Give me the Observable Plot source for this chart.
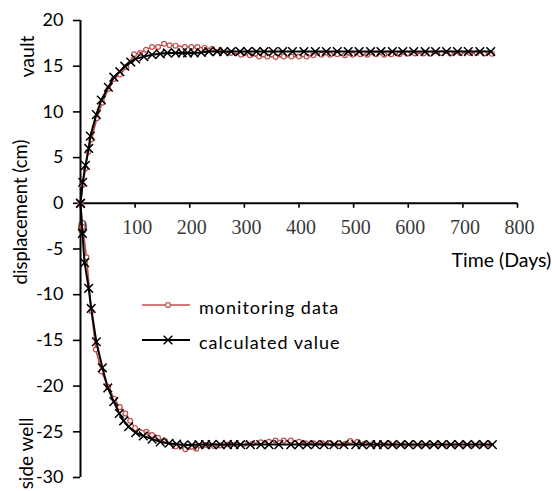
<!DOCTYPE html>
<html><head><meta charset="utf-8">
<script src="https://cdn.jsdelivr.net/npm/d3@7"></script>
<script src="https://cdn.jsdelivr.net/npm/@observablehq/plot@0.6"></script>
<style>
body{margin:0;background:#fff;}
#wrap{position:relative;width:552px;height:491px;overflow:hidden;background:#fff}
#legend{position:absolute;left:0;top:0;pointer-events:none}
</style></head><body><div id="wrap"></div>
<script>
// ---- data ----
const xTicks = [0,100,200,300,400,500,600,700,800];
const yTicks = [-30,-25,-20,-15,-10,-5,0,5,10,15,20];
const seriesNames = ["monitoring data","calculated value"];

// vault (upper) – monitoring data
const monUpDays = [0,4,9,14,20,30,40,51,61,72,84,98,109,120,131,142,153,163,174,191,203,214,227,241,256,275,294,310,327,342,357,372,386,400,414,426,441,457,470,484,498,512,525,541,556,569,584,598,612,628,640,661,677,695,713,725,739,753];
const monUpVals = [0,2.0,3.8,5.6,7.0,9.3,11.0,12.5,13.6,14.1,14.9,16.3,16.45,16.8,17.1,17.1,17.45,17.3,17.25,17.1,17.1,17.1,17.0,16.9,16.7,16.45,16.25,16.2,16.05,16.05,16.0,16.05,16.05,16.05,16.05,16.2,16.25,16.25,16.3,16.2,16.25,16.3,16.25,16.3,16.25,16.3,16.3,16.35,16.4,16.4,16.35,16.45,16.4,16.45,16.45,16.45,16.4,16.35];
// vault (upper) – calculated value
const calUpDays = [0,4,9,15,18,29,38,51,61,72,81,92,101,116,131,146,159,174,186,196,208,221,235,250,262,276,292,306,322,336,353,370,388,409,430,450,470,490,510,531,550,571,590,610,631,650,670,690,710,731,751];
const calUpVals = [0,2.3,4.15,6.0,7.35,9.7,11.3,12.7,13.8,14.4,15.0,15.45,15.8,16.05,16.25,16.35,16.45,16.45,16.45,16.45,16.45,16.5,16.6,16.6,16.6,16.6,16.6,16.6,16.6,16.6,16.6,16.6,16.6,16.6,16.6,16.6,16.6,16.6,16.6,16.6,16.6,16.6,16.6,16.6,16.6,16.6,16.6,16.6,16.6,16.6,16.6];
// side well (lower) – monitoring data
const monDnDays = [0,4,11,20,28,38.5,50.7,62,72,82,91,100,121,131,142,155,174,192,212,230,244,256,270,285,300,315,330,345,357,372,385,400,412,427,443,458,473,485,494,507,520,535,550,565,580,595,610,625,640,655,670,685,700,715,730,745];
const monDnVals = [0,-2.6,-5.9,-11.8,-16.0,-18.4,-20.1,-21.4,-22.3,-23.0,-23.8,-24.6,-25.0,-25.35,-25.65,-26.0,-26.6,-26.9,-26.85,-26.45,-26.55,-26.5,-26.4,-26.35,-26.3,-26.3,-26.15,-26.1,-25.95,-25.95,-25.95,-26.1,-26.25,-26.25,-26.25,-26.25,-26.3,-26.3,-26.0,-26.1,-26.3,-26.35,-26.35,-26.3,-26.35,-26.35,-26.3,-26.35,-26.35,-26.4,-26.35,-26.35,-26.4,-26.35,-26.4,-26.35];
// side well (lower) – calculated value
const calDnDays = [0,3.5,7.5,15,19.5,29,40,50,61,71,79,88,101,115,131,146,162,176,189,204,217,229,241,256,269,281,293,311,330,345,363,385,400,415,430,446,464,482,504,516,531,543,555,571,586,601,617,632,647,662,678,693,708,723,738,754];
const calDnVals = [0,-3.3,-6.5,-9.3,-11.5,-15.15,-18.0,-20.2,-21.7,-23.0,-23.8,-24.45,-25.1,-25.45,-25.8,-26.1,-26.25,-26.35,-26.45,-26.45,-26.4,-26.4,-26.4,-26.4,-26.4,-26.4,-26.4,-26.4,-26.4,-26.4,-26.4,-26.4,-26.4,-26.4,-26.4,-26.4,-26.4,-26.4,-26.4,-26.4,-26.4,-26.4,-26.4,-26.4,-26.4,-26.4,-26.4,-26.4,-26.4,-26.4,-26.4,-26.4,-26.4,-26.4,-26.4,-26.4];

// ---- build rows ----
const rows = (days, vals, branch) => days.map((d, i) => ({day: d, value: vals[i], branch}));
const monRows = [...rows(monUpDays, monUpVals, "vault"), ...rows(monDnDays, monDnVals, "side")];
const calRows = [...rows(calUpDays, calUpVals, "vault"), ...rows(calDnDays, calDnVals, "side")];

const RED = "#C0504D";
const SANS = "Lato";
const labelStyle = {fontSize: 18, fontFamily: SANS, fill: "black", textAnchor: "middle", lineAnchor: "middle"};

const chart = Plot.plot({
  width: 552, height: 491,
  marginLeft: 80, marginRight: 35, marginTop: 20, marginBottom: 14,
  x: {domain: [xTicks[0], xTicks[xTicks.length - 1]], axis: null},
  y: {domain: [yTicks[0], yTicks[yTicks.length - 1]], axis: null},
  style: {fontFamily: SANS, fontSize: "18px", background: "white", color: "black"},
  marks: [
    Plot.axisY(yTicks, {anchor: "left", tickSize: 7, tickPadding: 10, tickFormat: d => String(d),
      stroke: "black", strokeWidth: 1.6, fill: "black", fontSize: 18, fontFamily: SANS, label: null}),
    Plot.ruleX([xTicks[0]], {y1: yTicks[0], y2: yTicks[yTicks.length - 1], stroke: "black", strokeWidth: 2}),
    Plot.ruleY([0], {x1: xTicks[0], x2: xTicks[xTicks.length - 1], stroke: "black", strokeWidth: 2}),
    Plot.ruleX(xTicks, {y1: 0, y2: 0, insetBottom: -5, stroke: "black", strokeWidth: 1.6}),
    Plot.text(xTicks, {x: d => d, y: () => 0, dy: 24, dx: 2, text: d => String(d),
      fontFamily: "Liberation Serif", fontSize: 20, fill: "#3a3a3a"}),
    // series
    Plot.line(monRows, {x: "day", y: "value", z: "branch", stroke: RED, strokeWidth: 1.6}),
    Plot.dot(monRows, {x: "day", y: "value", r: 2.4, stroke: RED, fill: "white", strokeWidth: 1.2}),
    Plot.line(calRows, {x: "day", y: "value", z: "branch", stroke: "black", strokeWidth: 2}),
    Plot.dot(calRows, {x: "day", y: "value", symbol: "times", r: 4, stroke: "black", strokeWidth: 1.5}),
    // labels
    Plot.text(["displacement (cm)"], {...labelStyle, fontSize: 18.5, frameAnchor: "left", dx: -59, dy: -37, rotate: -90}),
    Plot.text(["vault"], {...labelStyle, fontSize: 19.5, frameAnchor: "top-left", dx: -53, dy: 36, rotate: -90}),
    Plot.text(["side well"], {...labelStyle, fontSize: 19, frameAnchor: "bottom-left", dx: -54, dy: -24, rotate: -90}),
    Plot.text(["Time (Days)"], {...labelStyle, fontSize: 19.5, frameAnchor: "top-right", dx: -66, dy: 240, textAnchor: "start"})
  ]
});
document.getElementById("wrap").appendChild(chart);

// ---- legend overlay ----
const legend = d3.create("svg").attr("id", "legend").attr("width", 552).attr("height", 491);
const items = [
  {name: seriesNames[0], color: RED, sym: "circle", y: 305},
  {name: seriesNames[1], color: "black", sym: "times", y: 340}
];
items.forEach(it => {
  const g = legend.append("g");
  g.append("line").attr("x1", 142).attr("x2", 190).attr("y1", it.y).attr("y2", it.y)
    .attr("stroke", it.color).attr("stroke-width", it.sym === "circle" ? 1.6 : 2);
  if (it.sym === "circle") {
    g.append("circle").attr("cx", 168).attr("cy", it.y).attr("r", 2.4)
      .attr("fill", "white").attr("stroke", it.color).attr("stroke-width", 1.2);
  } else {
    g.append("path").attr("transform", `translate(168,${it.y})`)
      .attr("d", d3.symbol(d3.symbolTimes, Math.PI * 16)())
      .attr("stroke", "black").attr("stroke-width", 1.5).attr("fill", "none");
  }
  g.append("text").attr("x", 199).attr("y", it.y + 3).attr("dy", "0.32em")
    .attr("font-family", SANS).attr("font-size", 18).attr("letter-spacing", "1px")
    .text(it.name);
});
document.getElementById("wrap").appendChild(legend.node());
</script>
</body></html>
